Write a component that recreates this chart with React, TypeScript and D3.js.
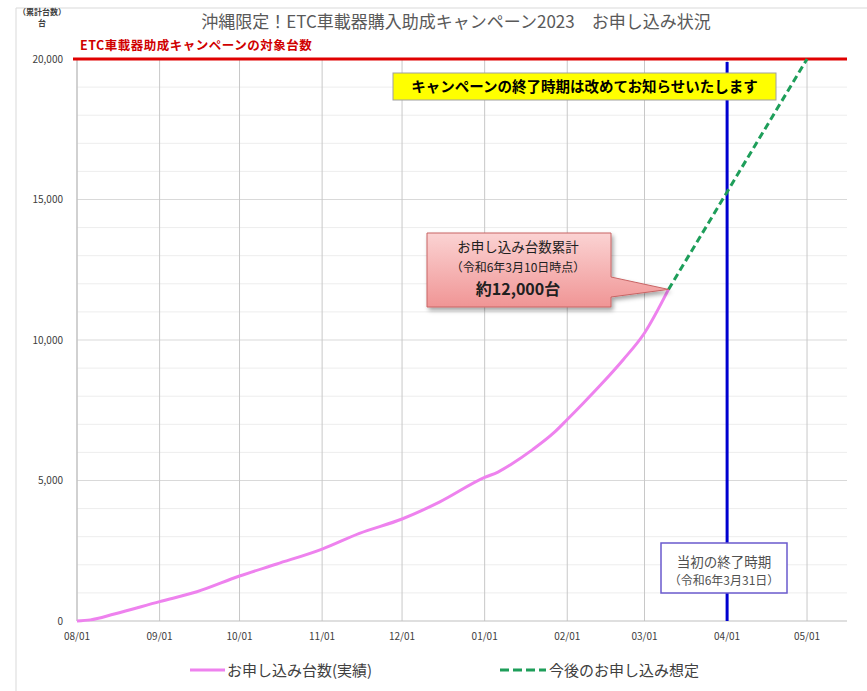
import React from "react";
import * as d3 from "d3";

const actualDates = [
  "2023-08-01", "2023-08-06", "2023-08-15", "2023-09-01", "2023-09-15", "2023-10-01",
  "2023-10-15", "2023-11-01", "2023-11-15", "2023-12-01", "2023-12-15", "2024-01-01",
  "2024-01-06", "2024-01-11", "2024-01-19", "2024-01-27", "2024-02-01", "2024-02-07",
  "2024-02-14", "2024-02-22", "2024-03-01", "2024-03-10",
];
const actualValues = [
  0, 40, 250, 690, 1040, 1600,
  2030, 2560, 3120, 3630, 4230, 5110,
  5300, 5580, 6100, 6700, 7170, 7750,
  8450, 9300, 10250, 11800,
];
const forecastDates = ["2024-03-10", "2024-05-01"];
const forecastValues = [11800, 20000];
const monthTicks = [
  "2023-08-01", "2023-09-01", "2023-10-01", "2023-11-01", "2023-12-01",
  "2024-01-01", "2024-02-01", "2024-03-01", "2024-04-01", "2024-05-01",
];
const yTicks = [0, 5000, 10000, 15000, 20000];
const targetValue = 20000;
const originalEnd = "2024-04-01";
const calloutDate = "2024-03-10";
const calloutValue = 11800;

const FONT = "'Noto Sans CJK JP', 'Noto Sans', sans-serif";
const parse = d3.utcParse("%Y-%m-%d");

export default function App() {
  const W = 867, H = 691;
  const x = d3.scaleUtc()
    .domain([parse("2023-08-01")!, parse("2024-05-16")!])
    .range([77, 847]);
  const y = d3.scaleLinear().domain([0, 20000]).range([621, 59]);
  const minor = d3.range(1000, 20000, 1000);
  const fmt = d3.format(",");
  const tfmt = d3.utcFormat("%m/%d");

  const line = d3.line<[Date, number]>().x(d => x(d[0])).y(d => y(d[1])).curve(d3.curveMonotoneX);
  const straight = d3.line<[Date, number]>().x(d => x(d[0])).y(d => y(d[1]));
  const actual: [Date, number][] = actualDates.map((d, i) => [parse(d)!, actualValues[i]]);
  const forecast: [Date, number][] = forecastDates.map((d, i) => [parse(d)!, forecastValues[i]]);

  const px = x(parse(calloutDate)!);
  const py = y(calloutValue);
  const bx0 = 427, bx1 = 611, by0 = 233, by1 = 307;
  const callout = `M${bx0},${by0} H${bx1} V277 L${px},${py} L${bx1},297 V${by1} H${bx0} Z`;
  const endX = x(parse(originalEnd)!);

  return (
    <svg width={W} height={H} style={{ position: "absolute", left: 0, top: 0, fontFamily: FONT }}>
      <defs>
        <linearGradient id="pinkGrad" x1="0" y1="0" x2="0" y2="1">
          <stop offset="0" stopColor="#fbd3d3" />
          <stop offset="1" stopColor="#f09595" />
        </linearGradient>
        <filter id="shadow" x="-10%" y="-10%" width="130%" height="140%">
          <feDropShadow dx="2" dy="3" stdDeviation="2" floodColor="#000" floodOpacity="0.35" />
        </filter>
      </defs>
      <rect x={0} y={0} width={W} height={H} fill="#fff" />
      <path d={`M16,${H} V8 H${W}`} fill="none" stroke="#d9d9d9" />

      <text x={456} y={28} textAnchor="middle" fontSize={17} fill="#595959">
        沖縄限定！ETC車載器購入助成キャンペーン2023　お申し込み状況
      </text>
      <text x={42} y={15} textAnchor="middle" fontSize={8} fontWeight="bold" fill="#404040">（累計台数）</text>
      <text x={42} y={26} textAnchor="middle" fontSize={8} fontWeight="bold" fill="#404040">台</text>

      {minor.map(v => (
        <line key={v} x1={77} x2={847} y1={y(v)} y2={y(v)} stroke={v % 5000 === 0 ? "#d9d9d9" : "#ededed"} />
      ))}
      {monthTicks.map(t => (
        <line key={t} x1={x(parse(t)!)} x2={x(parse(t)!)} y1={59} y2={621} stroke="#c8c8c8" />
      ))}
      <line x1={77} x2={77} y1={59} y2={621} stroke="#bfbfbf" />
      <line x1={77} x2={847} y1={621} y2={621} stroke="#bfbfbf" />

      {yTicks.map(v => (
        <text key={v} x={63} y={y(v) + 3.5} textAnchor="end" fontSize={10} fill="#404040">{fmt(v)}</text>
      ))}
      {monthTicks.map(t => (
        <text key={t} x={x(parse(t)!)} y={640} textAnchor="middle" fontSize={10} fill="#404040">{tfmt(parse(t)!)}</text>
      ))}

      <line x1={73} x2={847} y1={y(targetValue)} y2={y(targetValue)} stroke="#e00000" strokeWidth={3} />
      <text x={80} y={50} fontSize={12.5} fontWeight="bold" fill="#d00000" letterSpacing={0.5}>ETC車載器助成キャンペーンの対象台数</text>

      <line x1={endX} x2={endX} y1={y(targetValue) + 3} y2={621} stroke="#0000d0" strokeWidth={3} />

      <path d={line(actual)!} fill="none" stroke="#ee82ee" strokeWidth={3} />
      <path d={straight(forecast)!} fill="none" stroke="#1e9e5a" strokeWidth={3} strokeDasharray="7,4" />

      <rect x={393} y={73} width={383} height={27} fill="#ffff00" stroke="#a0a0a0" />
      <text x={584.5} y={92} textAnchor="middle" fontSize={14.5} fontWeight="bold" fill="#000">
        キャンペーンの終了時期は改めてお知らせいたします
      </text>

      <path d={callout} fill="url(#pinkGrad)" stroke="#c86464" strokeWidth={1} filter="url(#shadow)" />
      <text x={518} y={252} textAnchor="middle" fontSize={13.5} fill="#202020">お申し込み台数累計</text>
      <text x={518} y={272} textAnchor="middle" fontSize={12} fill="#202020">（令和6年3月10日時点）</text>
      <text x={518} y={295} textAnchor="middle" fontSize={16} fontWeight="bold" fill="#202020">約12,000台</text>

      <rect x={661} y={543} width={126} height={50} fill="#fff" stroke="#6a5acd" strokeWidth={1.5} />
      <text x={724} y={567} textAnchor="middle" fontSize={13.5} fill="#505050">当初の終了時期</text>
      <text x={724} y={585} textAnchor="middle" fontSize={12} fill="#505050">（令和6年3月31日）</text>

      <line x1={190} x2={225} y1={670} y2={670} stroke="#ee82ee" strokeWidth={3} />
      <text x={227} y={675.5} fontSize={15} fill="#404040">お申し込み台数(実績)</text>
      <line x1={500} x2={546} y1={670} y2={670} stroke="#1e9e5a" strokeWidth={3} strokeDasharray="9,4" />
      <text x={549} y={675.5} fontSize={15} fill="#404040">今後のお申し込み想定</text>
    </svg>
  );
}
